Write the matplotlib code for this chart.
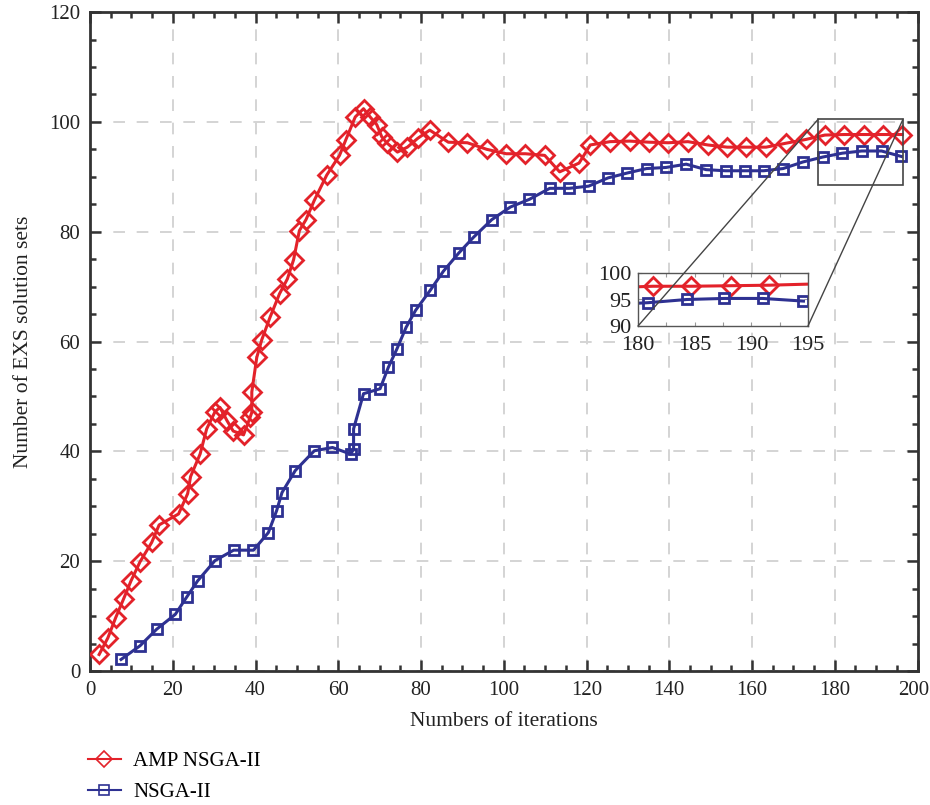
import matplotlib
matplotlib.use("Agg")
import matplotlib.pyplot as plt
from matplotlib.patches import Rectangle, ConnectionPatch
from matplotlib.lines import Line2D
from matplotlib.ticker import MultipleLocator
from matplotlib.transforms import ScaledTranslation

plt.rcParams['font.family'] = ['Liberation Serif', 'DejaVu Serif']

# ---- data ----
amp_x = [2.2, 4.3, 6.2, 8.1, 9.9, 12.1, 14.9, 16.7, 21.4, 23.6, 24.3, 26.6, 28.2, 30.2, 31.4,
         33.1, 34.6, 37.1, 38.7, 39.1, 39.1, 40.3, 41.5, 43.5, 45.8, 47.7, 49.2, 50.6, 52.2, 54.2,
         57.2, 60.3, 61.8, 64.1, 66.1, 67.7, 69.3, 70.5, 71.7, 74.3, 76.7, 79.2, 82.1, 86.6, 91.2,
         95.9, 100.6, 105.2, 109.9, 113.5, 118.2, 120.9, 125.7, 130.4, 135.2, 139.8, 144.5, 149.3, 154.0, 158.6,
         163.4, 168.1, 173.0, 177.6, 182.3, 187.0, 191.7, 196.3]
amp_y = [3.0, 6.0, 9.7, 13.1, 16.4, 19.9, 23.4, 26.6, 28.6, 32.3, 35.4, 39.5, 44.1, 47.2, 48.0,
         45.6, 43.7, 43.0, 46.2, 47.1, 50.8, 57.1, 60.3, 64.4, 68.7, 71.4, 74.9, 80.2, 82.2, 85.7,
         90.3, 93.9, 96.7, 100.9, 102.4, 100.9, 99.5, 97.3, 96.2, 94.5, 95.4, 97.0, 98.5, 96.3, 96.2,
         95.0, 94.2, 94.2, 93.9, 90.9, 92.5, 95.8, 96.4, 96.5, 96.3, 96.2, 96.4, 95.8, 95.4, 95.4,
         95.4, 96.1, 96.8, 97.6, 97.7, 97.7, 97.7, 97.7]

nsga_x = [7.5, 12.1, 16.1, 20.6, 23.4, 26.0, 30.2, 34.7, 39.5, 43.1, 45.1, 46.4, 49.6, 54.2, 58.6,
          63.0, 63.7, 63.7, 66.1, 70.1, 72.1, 74.2, 76.4, 78.7, 82.2, 85.4, 89.1, 92.7, 97.1, 101.6,
          106.2, 111.1, 115.8, 120.5, 125.2, 129.9, 134.5, 139.2, 144.1, 148.9, 153.6, 158.2, 162.8, 167.5, 172.3,
          177.1, 181.8, 186.5, 191.3, 196.1]
nsga_y = [2.1, 4.6, 7.6, 10.3, 13.5, 16.4, 20.1, 22.0, 22.0, 25.2, 29.2, 32.5, 36.5, 40.1, 40.7,
          39.5, 40.4, 44.1, 50.5, 51.4, 55.3, 58.7, 62.6, 65.7, 69.3, 72.8, 76.1, 79.0, 82.2, 84.5,
          85.9, 87.9, 87.9, 88.3, 89.8, 90.7, 91.5, 91.7, 92.3, 91.3, 91.1, 91.1, 91.1, 91.5, 92.7,
          93.6, 94.3, 94.7, 94.7, 93.7]

# inset (zoomed view)
inset_amp_x = [180.0, 181.3, 184.7, 188.2, 191.6, 195.0]
inset_amp_y = [97.4, 97.5, 97.5, 97.6, 97.7, 97.9]
inset_nsga_x = [180.0, 180.9, 184.3, 187.6, 191.0, 194.6]
inset_nsga_y = [94.3, 94.4, 95.0, 95.2, 95.2, 94.7]

xticks = [0, 20, 40, 60, 80, 100, 120, 140, 160, 180, 200]
yticks = [0, 20, 40, 60, 80, 100, 120]
inset_xticks = [180, 185, 190, 195]
inset_yticks = [90, 95, 100]

red = '#e3222a'
blue = '#2e3192'
spine_c = '#333333'
txt_c = '#222222'

fig = plt.figure(figsize=(9.3, 8.05), dpi=100)
ax = fig.add_axes([0.0968, 0.1665, 0.8898, 0.8185])

ax.plot(amp_x, amp_y, color=red, lw=2.2, marker='D', ms=9.5, mfc='none', mec=red, mew=2,
        zorder=3)
ax.plot(nsga_x, nsga_y, color=blue, lw=2.2, marker='s', ms=7.5, mfc='none', mec=blue, mew=2,
        zorder=3)

ax.set_xlim(0, 200)
ax.set_ylim(0, 120)
ax.set_xticks(xticks)
ax.set_yticks(yticks)
ax.xaxis.set_minor_locator(MultipleLocator(5))
ax.yaxis.set_minor_locator(MultipleLocator(5))
ax.tick_params(which='both', direction='in', top=True, right=True, colors=spine_c,
               labelcolor=txt_c, labelsize=15, width=1.8)
ax.tick_params(which='major', length=8, pad=7)
ax.tick_params(which='minor', length=4.5)
for s in ax.spines.values():
    s.set_color(spine_c)
    s.set_linewidth(2)
ax.grid(True, which='major', ls=(0, (6, 6)), color='#d4d4d4', lw=1.4, zorder=0)
ax.set_xlabel('Numbers of iterations', fontsize=15.5, color=txt_c, labelpad=9)
ax.set_ylabel('Number of EXS solution sets', fontsize=15.5, color=txt_c, labelpad=12)

# keep the last x tick label inside the figure
last = ax.get_xticklabels()[-1]
last.set_transform(last.get_transform() + ScaledTranslation(-4 / 100, 0, fig.dpi_scale_trans))

# zoom rectangle
rect = Rectangle((176, 88.5), 20.5, 12, fill=False, ec='#444444', lw=1.2, zorder=4)
ax.add_patch(rect)

# inset
axin = fig.add_axes([638 / 930, 1 - 326 / 805, 170 / 930, 53 / 805])
axin.plot(inset_amp_x, inset_amp_y, color=red, lw=2.2, marker='D', ms=9.5, mfc='none',
          mec=red, mew=2, markevery=[1, 2, 3, 4])
axin.plot(inset_nsga_x, inset_nsga_y, color=blue, lw=2.2, marker='s', ms=7.5, mfc='none',
          mec=blue, mew=2, markevery=[1, 2, 3, 4, 5])
axin.set_xlim(180, 195)
axin.set_ylim(90, 100)
axin.set_xticks(inset_xticks)
axin.set_yticks(inset_yticks)
axin.xaxis.set_minor_locator(MultipleLocator(2.5))
axin.tick_params(which='both', direction='in', top=True, right=True, labelsize=16,
                 colors='#999999', labelcolor=txt_c, length=3, width=0.8)
axin.tick_params(axis='x', pad=7)
axin.tick_params(axis='y', pad=5)
for s in axin.spines.values():
    s.set_color('#555555')
    s.set_linewidth(1)

# connector lines
for (xa, ya), (xb, yb) in [((176, 100.5), (0, 0)), ((196.5, 100.5), (1, 0))]:
    con = ConnectionPatch(xyA=(xa, ya), coordsA=ax.transData, xyB=(xb, yb),
                          coordsB=axin.transAxes, color='#444444', lw=1)
    fig.add_artist(con)

# legend
handles = [Line2D([], [], color=red, lw=1.5, marker='D', ms=8, mfc='none', mec=red, mew=1.2),
           Line2D([], [], color=blue, lw=1.5, marker='s', ms=7, mfc='none', mec=blue, mew=1.2)]
labels = ['AMP NSGA-II', 'NSGA-II']
fig.legend(handles, labels, loc='lower left', bbox_to_anchor=(0.074, -0.02), frameon=False,
           fontsize=15, handlelength=1.6, handletextpad=0.6, labelspacing=0.55)

fig.savefig('out.png', dpi=100)
